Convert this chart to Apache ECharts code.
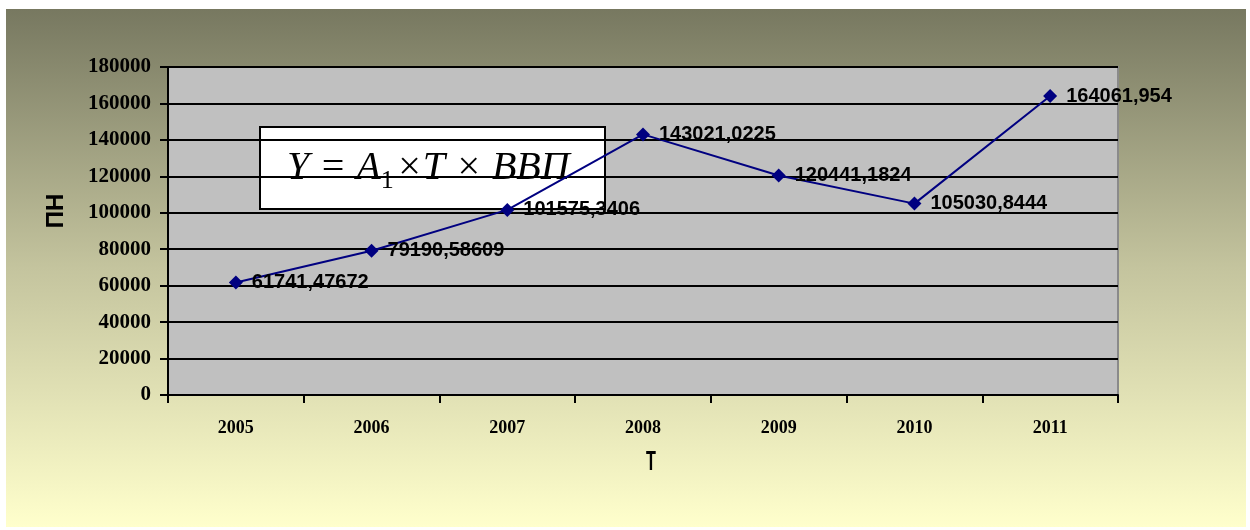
<!DOCTYPE html>
<html>
<head>
<meta charset="utf-8">
<script src="https://cdn.jsdelivr.net/npm/echarts@6/dist/echarts.min.js"></script>
<style>
  html, body { margin: 0; padding: 0; background: #ffffff; }
  #chart { width: 1250px; height: 530px; }
</style>
</head>
<body>
<div id="chart"></div>
<script>
// Years and the ПН values per year
const years = ['2005', '2006', '2007', '2008', '2009', '2010', '2011'];
const pnValues = [61741.47672, 79190.58609, 101575.3406, 143021.0225, 120441.1824, 105030.8444, 164061.954];
const valueLabels = ['61741,47672', '79190,58609', '101575,3406', '143021,0225', '120441,1824', '105030,8444', '164061,954'];

const chart = echarts.init(document.getElementById('chart'), null, { renderer: 'canvas' });

const option = {
  backgroundColor: '#ffffff',
  animation: false,
  graphic: [
    {
      type: 'rect',
      z: -10,
      silent: true,
      shape: { x: 6, y: 9, width: 1240, height: 518 },
      style: {
        fill: new echarts.graphic.LinearGradient(0, 0, 0, 1, [
          { offset: 0, color: '#777860' },
          { offset: 0.5, color: '#c4c49e' },
          { offset: 1, color: '#ffffcc' }
        ])
      }
    },
    {
      // condensed horizontal axis title
      type: 'text',
      z: 50,
      x: 651,
      y: 463,
      scaleX: 0.6,
      style: {
        text: 'T',
        align: 'center',
        verticalAlign: 'middle',
        fontFamily: 'Liberation Sans, Arial',
        fontWeight: 'bold',
        fontSize: 27,
        fill: '#000'
      }
    },
    {
      type: 'group',
      z: 100,
      children: [
        {
          type: 'rect',
          shape: { x: 260, y: 127, width: 345, height: 82 },
          style: { fill: '#ffffff', stroke: '#000000', lineWidth: 2 }
        },
        {
          type: 'text',
          x: 287,
          y: 168,
          style: {
            text: '{a|Y = A}{s|1}{a|×T × ВВП}',
            verticalAlign: 'middle',
            rich: {
              a: { fontFamily: 'Liberation Serif', fontStyle: 'italic', fontSize: 40, fill: '#000' },
              s: { fontFamily: 'Liberation Serif', fontSize: 26, fill: '#000', padding: [26, 2, 0, 0] }
            }
          }
        }
      ]
    }
  ],
  grid: {
    left: 168,
    top: 67,
    right: 132,
    bottom: 135,
    show: true,
    backgroundColor: '#c0c0c0',
    borderColor: '#8a8a8a',
    borderWidth: 2
  },
  xAxis: {
    type: 'category',
    data: years,
    boundaryGap: true,
    axisLine: { show: true, lineStyle: { color: '#000', width: 2 } },
    axisTick: { show: true, alignWithLabel: false, length: 8, lineStyle: { color: '#000', width: 2 } },
    axisLabel: { fontFamily: 'Liberation Serif', fontWeight: 'bold', fontSize: 18, color: '#000', margin: 24 },
    splitLine: { show: false }
  },
  yAxis: {
    type: 'value',
    min: 0,
    max: 180000,
    interval: 20000,
    name: 'ПН',
    nameLocation: 'middle',
    nameRotate: 90,
    nameGap: 100,
    nameTextStyle: { fontFamily: 'Liberation Sans, Arial', fontWeight: 'bold', fontSize: 24, color: '#000', padding: [0, 0, 0, 40] },
    axisLine: { show: true, lineStyle: { color: '#000', width: 2 } },
    axisTick: { show: true, length: 8, lineStyle: { color: '#000', width: 2 } },
    axisLabel: {
      fontFamily: 'Liberation Serif', fontWeight: 'bold', fontSize: 21, color: '#000', margin: 17,
      formatter: v => String(v)
    },
    splitLine: { show: true, lineStyle: { color: '#000', width: 2 } }
  },
  series: [
    {
      type: 'line',
      data: pnValues,
      symbol: 'diamond',
      symbolSize: 14,
      lineStyle: { color: '#000080', width: 2 },
      itemStyle: { color: '#000080' },
      label: {
        show: true,
        position: 'right',
        distance: 9,
        fontFamily: 'Liberation Sans, Arial',
        fontWeight: 'bold',
        fontSize: 20,
        color: '#000',
        formatter: p => valueLabels[p.dataIndex]
      },
      z: 5
    }
  ]
};

chart.setOption(option);
</script>
</body>
</html>
